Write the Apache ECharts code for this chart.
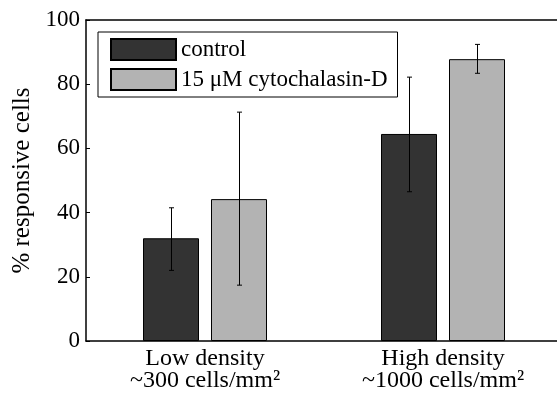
<!DOCTYPE html>
<html>
<head>
<meta charset="utf-8">
<script src="https://cdn.jsdelivr.net/npm/echarts@6/dist/echarts.min.js"></script>
<style>html,body{margin:0;padding:0;background:#fff}#c{width:557px;height:394px}</style>
</head>
<body>
<div id="c"></div>
<script>
const categories = ['Low density\n~300 cells/mm²', 'High density\n~1000 cells/mm²'];
const seriesNames = ['control', '15 μM cytochalasin-D'];
const controlValues = [32, 64.5];
const cytoValues = [44.2, 87.8];
const controlErrLow = [22, 46.5];
const controlErrHigh = [41.5, 82.2];
const cytoErrLow = [17.4, 83.4];
const cytoErrHigh = [71.3, 92.4];
const yTicks = [0, 20, 40, 60, 80, 100];

const FONT = 'Liberation Serif';
const BAR_W = 56, BAR_GAP = 12;

function errSeries(lows, highs, side) {
  return {
    type: 'custom',
    z: 10,
    data: lows.map((l, i) => [i, l, highs[i]]),
    renderItem: function (params, api) {
      const i = api.value(0);
      const off = side * (BAR_W + BAR_GAP) / 2;
      const p1 = api.coord([i, api.value(1)]);
      const p2 = api.coord([i, api.value(2)]);
      const x = Math.round(p1[0] + off) + 0.5;
      const c = 2.5;
      const st = { stroke: '#000', lineWidth: 1 };
      return {
        type: 'group',
        children: [
          { type: 'line', shape: { x1: x, y1: p1[1], x2: x, y2: p2[1] }, style: st },
          { type: 'line', shape: { x1: x - c, y1: p1[1], x2: x + c, y2: p1[1] }, style: st },
          { type: 'line', shape: { x1: x - c, y1: p2[1], x2: x + c, y2: p2[1] }, style: st }
        ]
      };
    }
  };
}

const chart = echarts.init(document.getElementById('c'), null, { renderer: 'canvas' });
chart.setOption({
  animation: false,
  textStyle: { fontFamily: FONT, color: '#000' },
  grid: { left: 86, width: 476, top: 20, bottom: 53, containLabel: false, outerBoundsMode: 'none' },
  legend: {
    orient: 'vertical',
    left: 98, top: 32,
    itemWidth: 65, itemHeight: 21, itemGap: 7,
    padding: [6, 10, 6, 12],
    backgroundColor: '#fff',
    borderColor: '#000', borderWidth: 1,
    icon: 'rect',
    textStyle: { fontFamily: FONT, fontSize: 23, color: '#000' },
    data: seriesNames
  },
  xAxis: [{
    type: 'category',
    data: categories,
    axisLine: { lineStyle: { color: '#000', width: 1.5 } },
    axisTick: { inside: true, alignWithLabel: true, length: 4, lineStyle: { color: '#000' } },
    axisLabel: { fontFamily: FONT, fontSize: 24, color: '#000', lineHeight: 22, margin: 7 }
  }, {
    type: 'category',
    data: categories,
    position: 'top',
    axisLine: { lineStyle: { color: '#000', width: 1.5 } },
    axisTick: { inside: true, alignWithLabel: true, length: 4, lineStyle: { color: '#000' } },
    axisLabel: { show: false }
  }],
  yAxis: {
    type: 'value',
    min: 0, max: 100, interval: 20,
    name: '% responsive cells',
    nameLocation: 'middle',
    nameGap: 47,
    nameTextStyle: { fontFamily: FONT, fontSize: 25, color: '#000' },
    axisLine: { show: true, lineStyle: { color: '#000', width: 1.5 } },
    axisTick: { show: true, inside: true, length: 4, lineStyle: { color: '#000' } },
    splitLine: { show: false },
    axisLabel: { fontFamily: FONT, fontSize: 23, color: '#000', margin: 6,
      formatter: v => yTicks.includes(v) ? String(v) : '' }
  },
  series: [
    { name: seriesNames[0], type: 'bar', data: controlValues, barWidth: BAR_W, barGap: (BAR_GAP / BAR_W * 100) + '%',
      itemStyle: { color: '#333333', borderColor: '#000', borderWidth: 1 } },
    { name: seriesNames[1], type: 'bar', data: cytoValues, barWidth: BAR_W,
      itemStyle: { color: '#b3b3b3', borderColor: '#000', borderWidth: 1 } },
    errSeries(controlErrLow, controlErrHigh, -1),
    errSeries(cytoErrLow, cytoErrHigh, 1)
  ]
});
</script>
</body>
</html>
